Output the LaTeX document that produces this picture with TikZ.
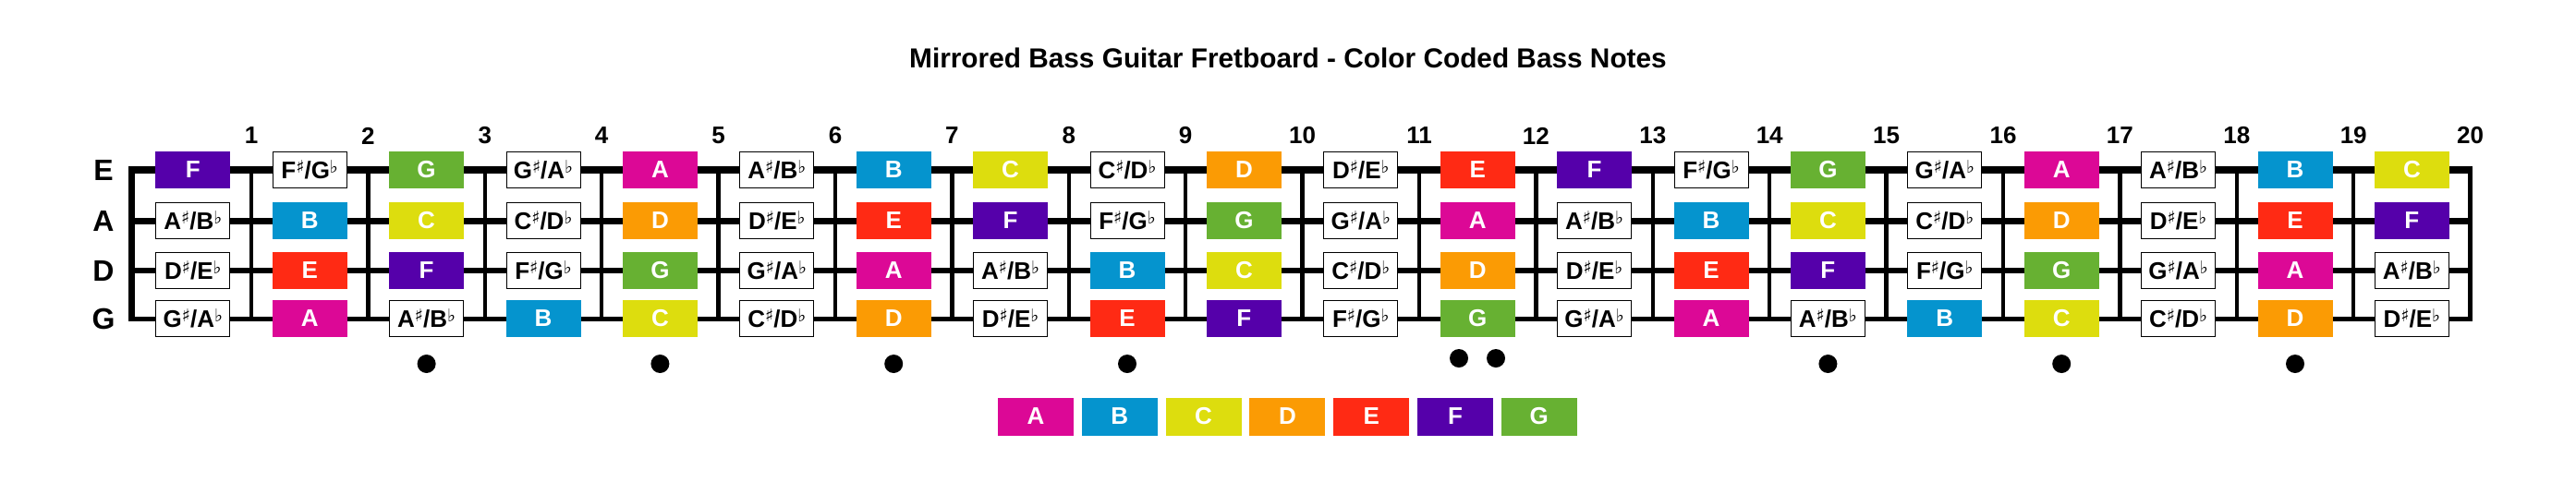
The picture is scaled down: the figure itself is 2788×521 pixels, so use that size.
\documentclass[tikz,border=0pt]{standalone}
\usepackage{fontspec}
\setmainfont{Liberation Sans}
\newfontfamily\accfont{DejaVu Sans}
\usetikzlibrary{positioning}

\definecolor{noteA}{RGB}{220,8,150}
\definecolor{noteB}{RGB}{5,148,206}
\definecolor{noteC}{RGB}{221,221,14}
\definecolor{noteD}{RGB}{251,155,4}
\definecolor{noteE}{RGB}{255,42,20}
\definecolor{noteF}{RGB}{85,0,170}
\definecolor{noteG}{RGB}{103,177,50}

\newcommand\accsign[1]{\raisebox{3.2pt}{\fontsize{9.5}{10}\selectfont\accfont\mdseries #1}}
\newcommand\acc[2]{#1\accsign{♯}/#2\accsign{♭}}

\begin{document}
\begin{tikzpicture}[x=0.5pt,y=-0.5pt,
  note/.style={minimum width=40pt,minimum height=19.5pt,inner sep=0pt,line width=0.5pt,font=\fontsize{13}{15}\selectfont\bfseries},
  nA/.style={note,fill=noteA,draw=noteA,text=white},
  nB/.style={note,fill=noteB,draw=noteB,text=white},
  nC/.style={note,fill=noteC,draw=noteC,text=white},
  nD/.style={note,fill=noteD,draw=noteD,text=white},
  nE/.style={note,fill=noteE,draw=noteE,text=white},
  nF/.style={note,fill=noteF,draw=noteF,text=white},
  nG/.style={note,fill=noteG,draw=noteG,text=white},
  nX/.style={note,fill=white,draw=black,text=black},
  fretnum/.style={font=\fontsize{13}{15}\selectfont\bfseries,inner sep=0pt},
  strlabel/.style={font=\fontsize{16}{18}\selectfont\bfseries,inner sep=0pt}]
\useasboundingbox (0,0) rectangle (2788,521);

\node[font=\fontsize{14.9}{17}\selectfont\bfseries] (title) at (1394,63) {Mirrored Bass Guitar Fretboard - Color Coded Bass Notes};

% strings
\foreach \s/\y/\w in {E/184/4pt,A/239/3.5pt,D/293/3pt,G/345/2.5pt}{
  \coordinate (\s-0) at (142,\y);
  \foreach \f in {1,...,20} \coordinate (\s-\f) at ({145.6+126.4*\f},\y);
  \draw[line width=\w] (\s-0) -- (\s-20);
  \node[strlabel] (lab\s) at (112,\y) {\s};
}

% nut, frets and end
\draw[line width=3.5pt] ([yshift=2pt]E-0) -- ([yshift=-1.25pt]G-0);
\draw[line width=2.75pt] ([yshift=2pt]E-20) -- ([yshift=-1.25pt]G-20);
\foreach \f in {1,...,19} \draw[line width=2.25pt] (E-\f) -- (G-\f);
\foreach \f in {1,...,20} \node[fretnum] (num\f) at ([yshift=18.5pt]E-\f) {\f};

% notes
\foreach \s/\open/\y in {E/7/184,A/0/239,D/5/293,G/10/345}{
  \foreach \f in {1,...,20}{
    \pgfmathtruncatemacro\n{mod(\open+\f,12)}
    \ifcase\n\relax \def\st{nA}\def\tx{A}%
    \or \def\st{nX}\def\tx{\acc AB}%
    \or \def\st{nB}\def\tx{B}%
    \or \def\st{nC}\def\tx{C}%
    \or \def\st{nX}\def\tx{\acc CD}%
    \or \def\st{nD}\def\tx{D}%
    \or \def\st{nX}\def\tx{\acc DE}%
    \or \def\st{nE}\def\tx{E}%
    \or \def\st{nF}\def\tx{F}%
    \or \def\st{nX}\def\tx{\acc FG}%
    \or \def\st{nG}\def\tx{G}%
    \or \def\st{nX}\def\tx{\acc GA}%
    \fi
    \node[\st] (\s\f) at ({82.4+126.4*\f},\y) {\tx};
  }
}

% inlay dots
\foreach \f in {3,5,7,9,15,17,19} \fill ({82.4+126.4*\f},394) circle (5pt);
\fill (1579,388) circle (5pt);
\fill (1619,388) circle (5pt);

% legend
\foreach \nt [count=\i from 0] in {A,B,C,D,E,F,G}
  \node[n\nt,minimum width=40.5pt,minimum height=20pt] (key\nt) at ({1121+90.8*\i},451) {\nt};
\end{tikzpicture}
\end{document}
